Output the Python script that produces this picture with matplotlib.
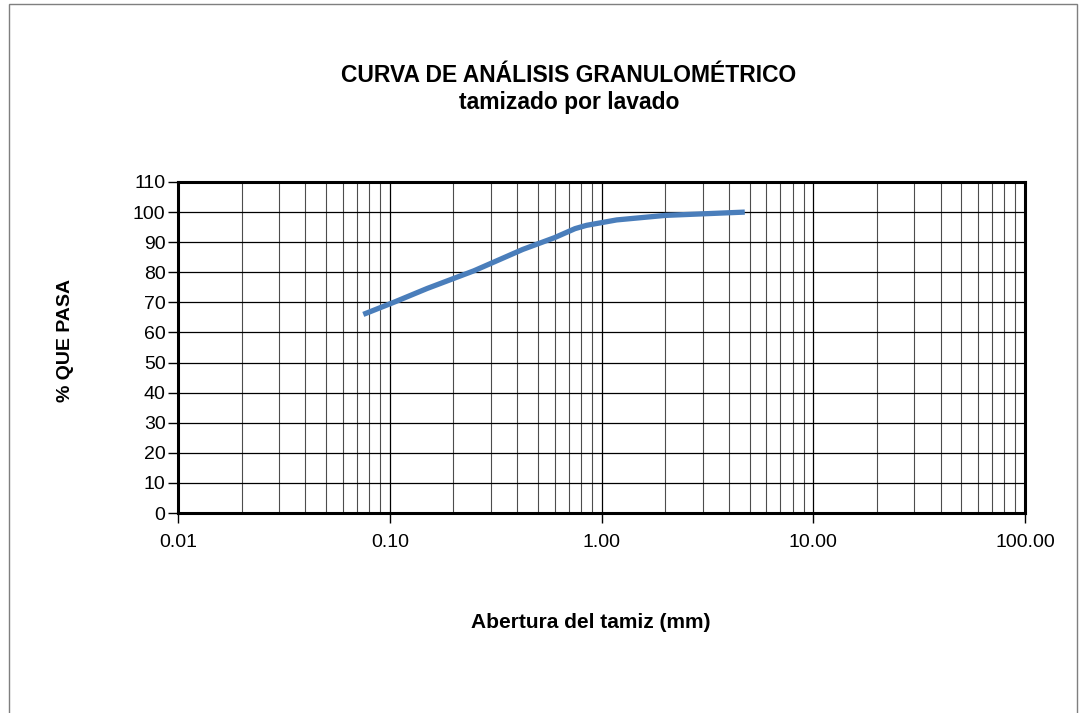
import matplotlib.pyplot as plt
from matplotlib.patches import Rectangle
from matplotlib.ticker import FixedLocator, FuncFormatter, LogLocator, NullFormatter

plt.rcParams["font.family"] = ["Liberation Sans", "DejaVu Sans"]

# sieve opening (mm) and percent passing
abertura = [0.075, 0.106, 0.15, 0.25, 0.425, 0.6, 0.75, 0.85, 1.18, 2.0, 4.75]
pasa = [66.0, 70.2, 74.6, 80.5, 87.6, 91.5, 94.5, 95.6, 97.4, 98.9, 100.0]

y_ticks = list(range(0, 111, 10))
x_ticks = [0.01, 0.1, 1, 10, 100]

fig = plt.figure(figsize=(10.86, 7.13), dpi=100)
# outer frame of the chart area
fig.patches.append(Rectangle((9 / 1086, -0.01), 1068 / 1086, 1.01 - 4 / 713,
                             transform=fig.transFigure, fill=False,
                             edgecolor="#7f7f7f", lw=1.0))

ax = fig.add_axes([178 / 1086, 1 - 513 / 713, 847 / 1086, 331 / 713])
ax.plot(abertura, pasa, color="#4a7ebb", lw=3.8, solid_capstyle="butt", zorder=3)

ax.set_xscale("log")
ax.set_xlim(0.01, 100)
ax.set_ylim(0, 110)
ax.xaxis.set_major_locator(FixedLocator(x_ticks))
ax.xaxis.set_major_formatter(FuncFormatter(lambda v, p: f"{v:.2f}"))
ax.xaxis.set_minor_locator(LogLocator(base=10, subs=range(2, 10), numticks=20))
ax.xaxis.set_minor_formatter(NullFormatter())
ax.set_yticks(y_ticks)

ax.grid(True, which="major", color="black", lw=0.9)
ax.grid(True, which="minor", axis="x", color="#4d4d4d", lw=0.8)
ax.tick_params(which="major", direction="out", length=7, width=1, labelsize=14)
ax.tick_params(axis="x", which="major", pad=8)
ax.tick_params(axis="y", which="major", pad=2)
ax.tick_params(which="minor", length=0)
for s in ax.spines.values():
    s.set_linewidth(2.2)

fig.text(65 / 1086, 1 - 340 / 713, "% QUE PASA", rotation=90, ha="center",
         va="center", fontsize=14, fontweight="bold")
fig.text(591 / 1086, 1 - 622 / 713, "Abertura del tamiz (mm)", ha="center",
         va="center", fontsize=15, fontweight="bold")

fig.text(569 / 1086, 1 - 76 / 713, "CURVA DE ANÁLISIS GRANULOMÉTRICO", ha="center",
         va="center", fontsize=16.5, fontweight="bold")
fig.text(569 / 1086, 1 - 103 / 713, "tamizado por lavado", ha="center",
         va="center", fontsize=16.5, fontweight="bold")

fig.savefig("out.png", dpi=100)
